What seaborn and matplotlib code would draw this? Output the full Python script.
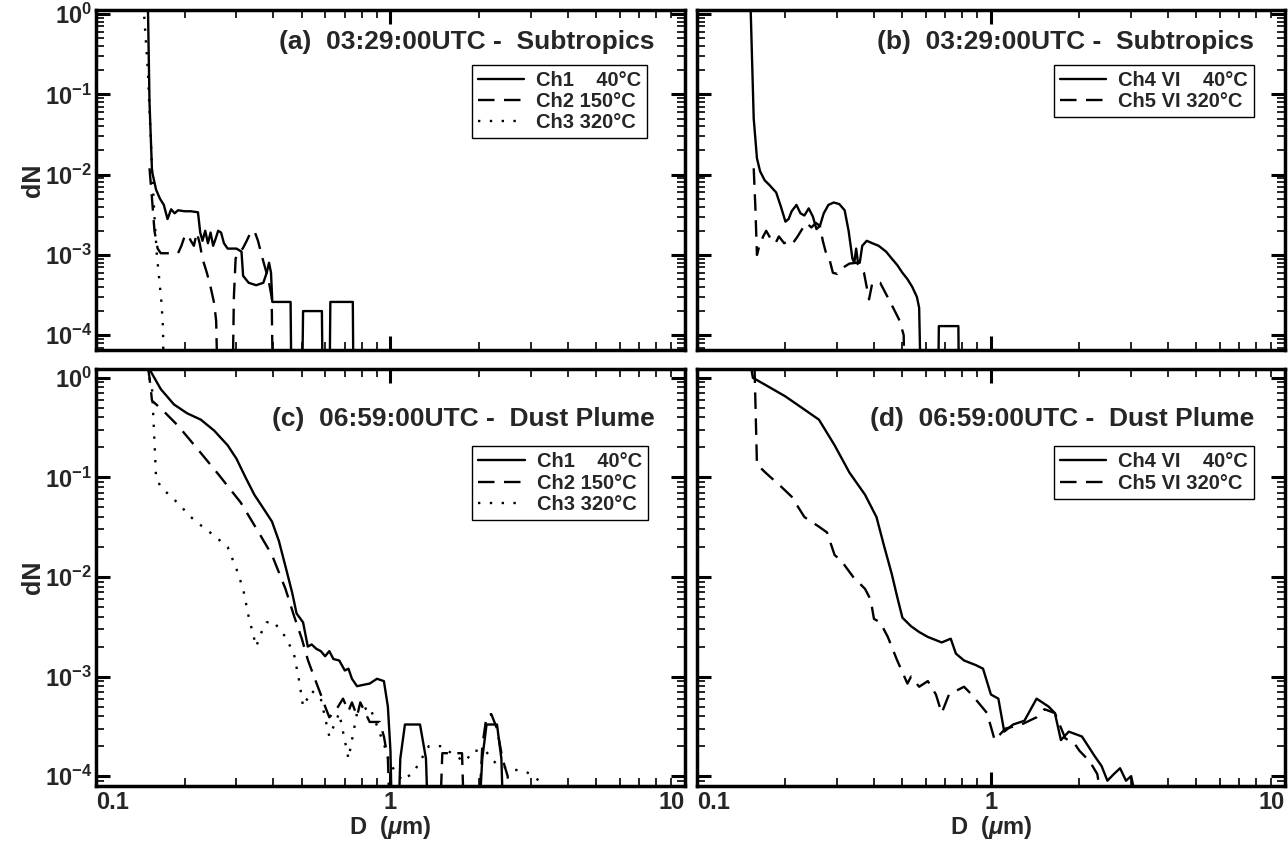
import matplotlib
matplotlib.use("Agg")
import numpy as np
import matplotlib.pyplot as plt
from matplotlib.lines import Line2D
from matplotlib.ticker import FixedLocator, LogLocator, FuncFormatter, NullFormatter
import seaborn as sns

# ---- data: D (um) and dN, 1e-5 = below the axis ----
# (a) 03:29 Subtropics, CPC channels
a_ch1_d = [0.150, 0.152, 0.155, 0.160, 0.165, 0.170, 0.175, 0.180, 0.185, 0.190,
           0.200, 0.210, 0.222, 0.226, 0.230, 0.235, 0.240, 0.245, 0.250, 0.255,
           0.260, 0.266, 0.272, 0.280, 0.300, 0.312, 0.316, 0.330, 0.350, 0.370,
           0.380, 0.387, 0.393, 0.397, 0.430, 0.458, 0.462, 0.500, 0.505, 0.585,
           0.590, 0.620, 0.625, 0.745, 0.750, 0.900]
a_ch1_n = [1.5, 0.08, 0.011, 0.0065, 0.005, 0.0042, 0.0028, 0.0037, 0.0033, 0.0036,
           0.0035, 0.0035, 0.0034, 0.0019, 0.0015, 0.0020, 0.0014, 0.0019, 0.0013, 0.0016,
           0.0020, 0.0019, 0.0014, 0.0012, 0.0012, 0.0011, 0.00055, 0.00045, 0.00042, 0.00045,
           0.0006, 0.0008, 0.0006, 0.00026, 0.00026, 0.00026, 1e-5, 1e-5, 0.0002, 0.0002,
           1e-5, 1e-5, 0.00026, 0.00026, 1e-5, 1e-5]
a_ch2_d = [0.152, 0.155, 0.158, 0.162, 0.166, 0.175, 0.190, 0.195, 0.200, 0.205,
           0.210, 0.215, 0.220, 0.225, 0.230, 0.238, 0.245, 0.252, 0.256, 0.260,
           0.290, 0.294, 0.298, 0.305, 0.315, 0.325, 0.335, 0.345, 0.355, 0.365,
           0.375, 0.385, 0.395, 0.400, 0.450]
a_ch2_n = [0.012, 0.005, 0.002, 0.0012, 0.00105, 0.00105, 0.00105, 0.0013, 0.0017, 0.0018,
           0.0015, 0.0013, 0.0019, 0.0014, 0.0009, 0.0006, 0.0004, 0.00025, 0.00015, 1e-5,
           1e-5, 0.0003, 0.0009, 0.0011, 0.0012, 0.0015, 0.0019, 0.0020, 0.0015, 0.0010,
           0.0007, 0.0005, 0.0003, 1e-5, 1e-5]
a_ch3_d = [0.145, 0.150, 0.155, 0.158, 0.161, 0.164, 0.167, 0.169, 0.170]
a_ch3_n = [1.3, 0.2, 0.012, 0.003, 0.001, 0.0005, 0.00025, 0.00012, 1e-5]

# (b) 03:29 Subtropics, VI channels
b_ch4_d = [0.152, 0.156, 0.160, 0.164, 0.170, 0.176, 0.186, 0.193, 0.200, 0.205,
           0.210, 0.218, 0.225, 0.232, 0.240, 0.248, 0.255, 0.262, 0.270, 0.280,
           0.292, 0.305, 0.318, 0.328, 0.338, 0.343, 0.348, 0.353, 0.358, 0.365,
           0.378, 0.395, 0.415, 0.440, 0.460, 0.480, 0.500, 0.520, 0.540, 0.560,
           0.570, 0.580, 0.600, 0.660, 0.665, 0.775, 0.780, 0.900]
b_ch4_n = [1.5, 0.05, 0.016, 0.011, 0.0085, 0.0075, 0.006, 0.004, 0.0026, 0.0028,
           0.0035, 0.0042, 0.0033, 0.0031, 0.0038, 0.0030, 0.0021, 0.0023, 0.0033, 0.0042,
           0.0045, 0.0043, 0.0036, 0.0020, 0.0009, 0.0008, 0.0012, 0.0008, 0.0008, 0.0013,
           0.0015, 0.0014, 0.0013, 0.0011, 0.0009, 0.00075, 0.0006, 0.0005, 0.0004, 0.0003,
           0.00022, 1e-5, 1e-5, 1e-5, 0.00013, 0.00013, 1e-5, 1e-5]
b_ch5_d = [0.156, 0.158, 0.160, 0.163, 0.168, 0.172, 0.178, 0.185, 0.190, 0.198,
           0.205, 0.212, 0.220, 0.228, 0.236, 0.245, 0.254, 0.262, 0.268, 0.274,
           0.282, 0.290, 0.300, 0.315, 0.330, 0.350, 0.370, 0.385, 0.395, 0.405,
           0.420, 0.445, 0.465, 0.490, 0.505, 0.510, 0.600]
b_ch5_n = [0.012, 0.004, 0.001, 0.0013, 0.0017, 0.002, 0.0016, 0.0014, 0.0017, 0.0014,
           0.0015, 0.0014, 0.0017, 0.0021, 0.0025, 0.0022, 0.0025, 0.0023, 0.0015, 0.0011,
           0.0009, 0.0006, 0.00058, 0.0007, 0.00078, 0.0008, 0.0006, 0.00028, 0.00045, 0.00045,
           0.00045, 0.0003, 0.00022, 0.00015, 0.0001, 1e-5, 1e-5]

# (c) 06:59 Dust Plume, CPC channels
c_ch1_d = [0.150, 0.155, 0.166, 0.184, 0.204, 0.227, 0.252, 0.280, 0.300, 0.322,
           0.345, 0.370, 0.396, 0.418, 0.440, 0.464, 0.480, 0.505, 0.524, 0.540,
           0.560, 0.580, 0.600, 0.620, 0.640, 0.670, 0.700, 0.720, 0.740, 0.770,
           0.800, 0.850, 0.900, 0.950, 0.980, 1.000, 1.020, 1.050, 1.080, 1.120,
           1.260, 1.320, 1.360, 1.950, 2.050, 2.120, 2.300, 2.380, 2.450, 3.000]
c_ch1_n = [1.3, 1.1, 0.77, 0.54, 0.44, 0.38, 0.295, 0.21, 0.154, 0.10,
           0.067, 0.049, 0.036, 0.023, 0.0128, 0.0069, 0.0043, 0.0035, 0.002, 0.0021,
           0.0019, 0.0018, 0.0016, 0.0018, 0.0015, 0.00145, 0.00115, 0.0012, 0.00095, 0.0008,
           0.00082, 0.00085, 0.00095, 0.0009, 0.0005, 0.00018, 1e-5, 1e-5, 0.00015, 0.00033,
           0.00033, 0.00015, 1e-5, 1e-5, 0.00015, 0.00033, 0.00033, 0.00015, 1e-5, 1e-5]
c_ch2_d = [0.150, 0.152, 0.155, 0.170, 0.190, 0.219, 0.260, 0.310, 0.357, 0.396,
           0.440, 0.470, 0.500, 0.525, 0.550, 0.580, 0.600, 0.620, 0.650, 0.690,
           0.720, 0.740, 0.770, 0.790, 0.850, 0.920, 0.950, 0.980, 1.010, 1.450,
           1.500, 1.750, 1.800, 1.950, 2.050, 2.120, 2.200, 2.300, 2.400, 2.500,
           2.600]
c_ch2_n = [1.3, 1.0, 0.59, 0.46, 0.33, 0.20, 0.108, 0.056, 0.028, 0.0166,
           0.0076, 0.0041, 0.0024, 0.00145, 0.001, 0.00066, 0.0005, 0.00039, 0.00045, 0.0006,
           0.00045, 0.00055, 0.0004, 0.00055, 0.00035, 0.00035, 0.00025, 0.00015, 1e-5, 1e-5,
           0.00017, 0.00017, 1e-5, 1e-5, 0.0002, 0.0004, 0.00042, 0.0003, 0.00015, 0.0001,
           1e-5]
c_ch3_d = [0.148, 0.155, 0.160, 0.166, 0.190, 0.210, 0.230, 0.252, 0.280, 0.300,
           0.316, 0.330, 0.350, 0.365, 0.380, 0.400, 0.440, 0.470, 0.490, 0.505,
           0.540, 0.580, 0.620, 0.670, 0.720, 0.770, 0.850, 0.950, 1.000, 1.100,
           1.200, 1.350, 1.500, 1.650, 1.800, 1.900, 2.100, 2.300, 2.500, 2.900,
           3.200, 3.400]
c_ch3_n = [1.3, 0.8, 0.1, 0.08, 0.055, 0.04, 0.032, 0.026, 0.02, 0.012,
           0.0076, 0.004, 0.002, 0.0028, 0.0035, 0.0036, 0.0025, 0.0017, 0.0009, 0.0005,
           0.00072, 0.0006, 0.00025, 0.00043, 0.00015, 0.00043, 0.0005, 0.00021, 0.00013, 9e-5,
           0.00011, 0.0002, 0.0002, 0.00016, 0.00014, 0.00018, 0.00018, 0.00013, 0.00012, 0.00011,
           9e-5, 7e-5]

# (d) 06:59 Dust Plume, VI channels
d_ch4_d = [0.152, 0.155, 0.172, 0.200, 0.232, 0.260, 0.294, 0.330, 0.373, 0.408,
           0.434, 0.460, 0.480, 0.500, 0.535, 0.570, 0.610, 0.680, 0.730, 0.760,
           0.810, 0.890, 0.940, 1.000, 1.060, 1.110, 1.190, 1.300, 1.430, 1.570,
           1.650, 1.730, 1.840, 2.040, 2.250, 2.380, 2.490, 2.620, 2.750, 2.880,
           3.000, 3.150]
d_ch4_n = [1.4, 1.0, 0.84, 0.65, 0.48, 0.38, 0.21, 0.112, 0.067, 0.04,
           0.02, 0.0107, 0.0063, 0.0039, 0.0032, 0.0028, 0.0025, 0.0022, 0.0024, 0.0017,
           0.00145, 0.0013, 0.0012, 0.00066, 0.0006, 0.00028, 0.00033, 0.00036, 0.0006, 0.0005,
           0.00043, 0.00023, 0.00028, 0.00025, 0.00016, 0.000126, 9e-5, 0.000105, 0.00012, 9e-5,
           0.0001, 5e-5]
d_ch5_d = [0.157, 0.160, 0.172, 0.194, 0.210, 0.232, 0.260, 0.277, 0.294, 0.310,
           0.340, 0.373, 0.390, 0.400, 0.420, 0.446, 0.480, 0.520, 0.535, 0.570,
           0.610, 0.650, 0.680, 0.720, 0.810, 0.860, 0.970, 1.030, 1.120, 1.270,
           1.430, 1.520, 1.650, 1.790, 1.930, 2.000, 2.170, 2.300, 2.400]
d_ch5_n = [1.3, 0.135, 0.11, 0.08, 0.064, 0.04, 0.032, 0.028, 0.0166, 0.0145,
           0.01, 0.0076, 0.0059, 0.0038, 0.0035, 0.0025, 0.00145, 0.00085, 0.001, 0.00079,
           0.0009, 0.00066, 0.00043, 0.00066, 0.00079, 0.00066, 0.00043, 0.00023, 0.0003, 0.00033,
           0.00039, 0.00047, 0.00043, 0.00024, 0.00021, 0.00018, 0.00014, 0.000105, 5e-5]

titles = ["(a)  03:29:00UTC -  Subtropics", "(b)  03:29:00UTC -  Subtropics",
          "(c)  06:59:00UTC -  Dust Plume", "(d)  06:59:00UTC -  Dust Plume"]
cpc_labels = ["Ch1    40\u00b0C", "Ch2 150\u00b0C", "Ch3 320\u00b0C"]
vi_labels = ["Ch4 VI    40\u00b0C", "Ch5 VI 320\u00b0C"]

# ---- style ----
sns.set_theme(style="ticks")
plt.rcParams["font.family"] = ["Liberation Sans", "DejaVu Sans"]
plt.rcParams["font.weight"] = "bold"
plt.rcParams["mathtext.fontset"] = "custom"
plt.rcParams["mathtext.rm"] = "Liberation Sans:bold"
plt.rcParams["mathtext.bf"] = "Liberation Sans:bold"
plt.rcParams["mathtext.it"] = "Liberation Sans:italic"

SOLID = "-"
DASH = (0, (7, 4))
DOT = (0, (1, 4))
LW = 1.7

fig = plt.figure(figsize=(12.88, 8.41), dpi=100)
ax_a = fig.add_axes([0.0745, 0.5835, 0.4573, 0.4045])
ax_b = fig.add_axes([0.5411, 0.5835, 0.4565, 0.4045])
ax_c = fig.add_axes([0.0745, 0.0650, 0.4573, 0.4960])
ax_d = fig.add_axes([0.5411, 0.0650, 0.4565, 0.4960])


def draw(ax, d, n, ls):
    sns.lineplot(x=d, y=n, ax=ax, color="black", linewidth=LW, linestyle=ls,
                 sort=False, estimator=None, legend=False)


def style_axis(ax, ylim, show_x, show_y):
    ax.set_xscale("log")
    ax.set_yscale("log")
    ax.set_xlim(0.1, 10)
    ax.set_ylim(*ylim)
    ax.xaxis.set_major_locator(FixedLocator([0.1, 1, 10]))
    ax.xaxis.set_minor_locator(LogLocator(base=10, subs=range(2, 10), numticks=20))
    ax.yaxis.set_major_locator(FixedLocator([1e-4, 1e-3, 1e-2, 1e-1, 1]))
    ax.yaxis.set_minor_locator(LogLocator(base=10, subs=range(2, 10), numticks=20))
    ax.xaxis.set_minor_formatter(NullFormatter())
    ax.yaxis.set_minor_formatter(NullFormatter())
    ax.tick_params(which="both", direction="in", top=True, right=True,
                   labelsize=17, color="black")
    ax.tick_params(which="major", length=10, width=2.2, pad=3)
    ax.tick_params(which="minor", length=6, width=1.2)
    if show_x:
        ax.xaxis.set_major_formatter(FuncFormatter(lambda v, p: f"{v:g}"))
        ax.set_xlabel(r"D  ($\mu$m)", fontsize=17, fontweight="bold", labelpad=0)
        ticks = ax.get_xticklabels()
        ticks[0].set_horizontalalignment("left")
        ticks[-1].set_horizontalalignment("right")
    else:
        ax.xaxis.set_major_formatter(NullFormatter())
    if show_y:
        ax.yaxis.set_major_formatter(
            FuncFormatter(lambda v, p: r"$\mathbf{10^{%d}}$" % round(np.log10(v))))
        ax.set_ylabel("dN", fontsize=18, fontweight="bold", labelpad=0)
    else:
        ax.yaxis.set_major_formatter(NullFormatter())
    for s in ax.spines.values():
        s.set_linewidth(2.5)
        s.set_color("black")
    for lab in ax.get_xticklabels() + ax.get_yticklabels():
        lab.set_fontweight("bold")


def add_legend(ax, styles, labels, anchor):
    handles = [Line2D([], [], color="black", linewidth=LW, linestyle=s) for s in styles]
    leg = ax.legend(handles, labels, loc="upper right", bbox_to_anchor=anchor,
                    prop={"weight": "bold", "size": 14.5}, frameon=True, fancybox=False,
                    edgecolor="black", framealpha=1, handlelength=2.3, handletextpad=0.6,
                    borderpad=0.3, labelspacing=0.12, borderaxespad=0)
    leg.get_frame().set_linewidth(1.0)


draw(ax_a, a_ch1_d, a_ch1_n, SOLID)
draw(ax_a, a_ch2_d, a_ch2_n, DASH)
draw(ax_a, a_ch3_d, a_ch3_n, DOT)
draw(ax_b, b_ch4_d, b_ch4_n, SOLID)
draw(ax_b, b_ch5_d, b_ch5_n, DASH)
draw(ax_c, c_ch1_d, c_ch1_n, SOLID)
draw(ax_c, c_ch2_d, c_ch2_n, DASH)
draw(ax_c, c_ch3_d, c_ch3_n, DOT)
draw(ax_d, d_ch4_d, d_ch4_n, SOLID)
draw(ax_d, d_ch5_d, d_ch5_n, DASH)

style_axis(ax_a, (6.5e-5, 1.12), False, True)
style_axis(ax_b, (6.5e-5, 1.12), False, False)
style_axis(ax_c, (7.9e-5, 1.22), True, True)
style_axis(ax_d, (7.9e-5, 1.22), True, False)

for ax, title, ty in zip([ax_a, ax_b, ax_c, ax_d], titles, [0.905, 0.905, 0.88, 0.88]):
    ax.text(0.948, ty, title, transform=ax.transAxes, ha="right", va="center",
            fontsize=19, fontweight="bold")

add_legend(ax_a, [SOLID, DASH, DOT], cpc_labels, (0.936, 0.84))
add_legend(ax_b, [SOLID, DASH], vi_labels, (0.947, 0.84))
add_legend(ax_c, [SOLID, DASH, DOT], cpc_labels, (0.937, 0.815))
add_legend(ax_d, [SOLID, DASH], vi_labels, (0.947, 0.815))

fig.savefig("out.png", dpi=100)
